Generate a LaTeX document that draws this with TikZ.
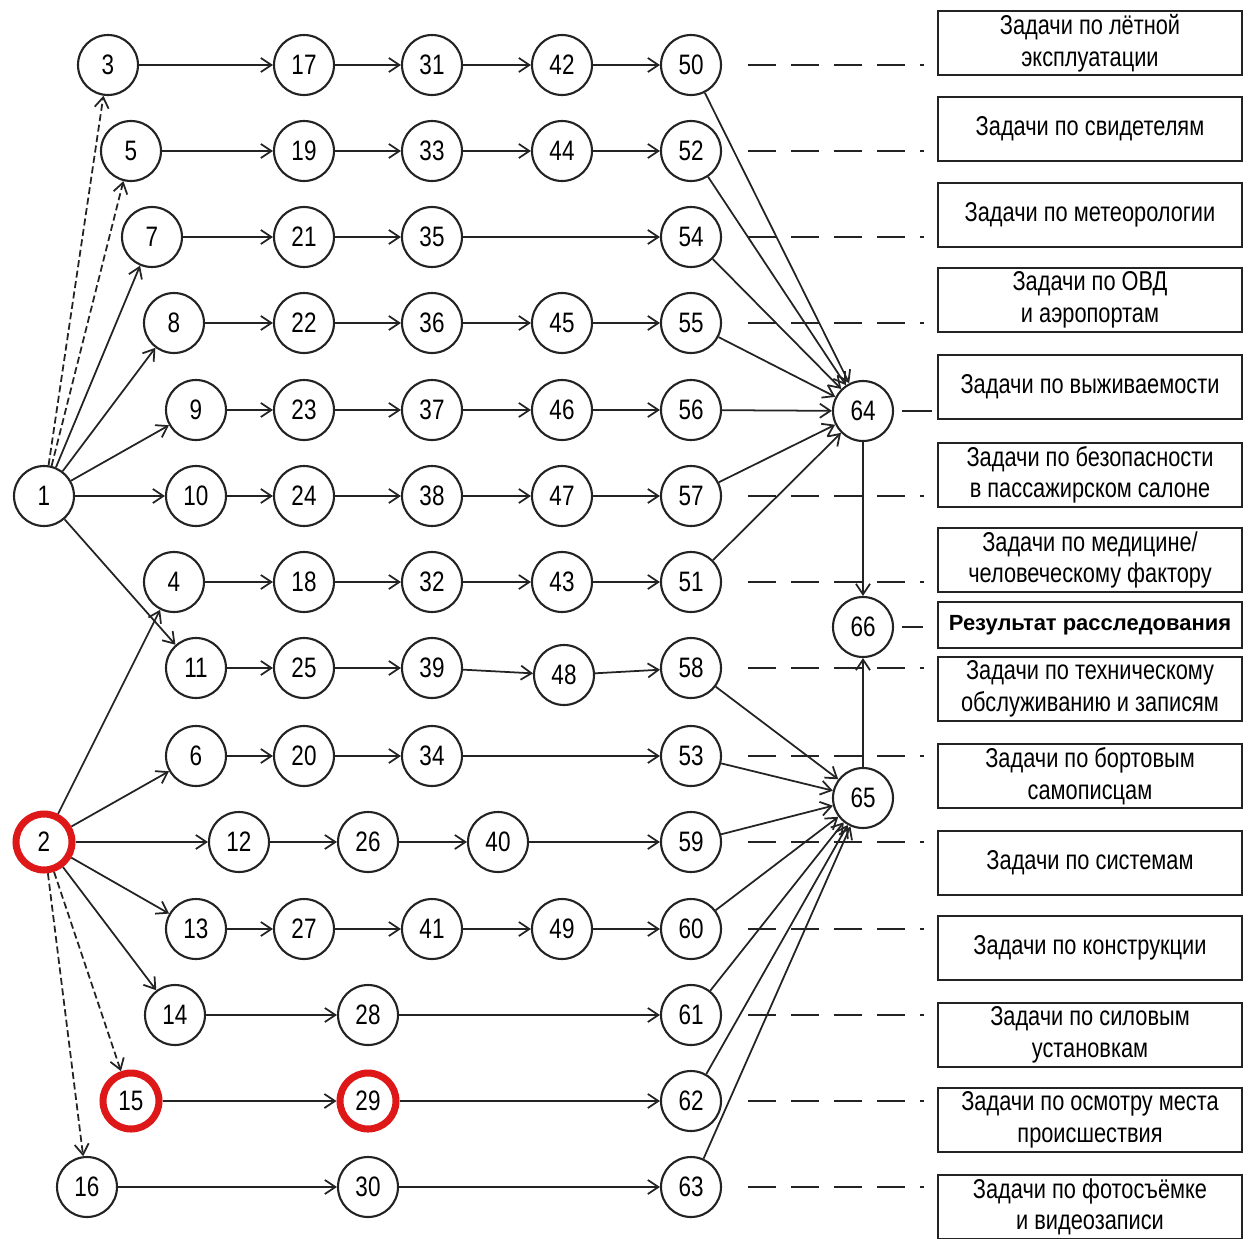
\documentclass[tikz,border=0pt]{standalone}
\usepackage{fontspec}
\setmainfont{Liberation Sans}
\newfontfamily\narrowfont[FakeStretch=0.8]{Liberation Sans}
\usetikzlibrary{arrows.meta}
\usepackage{xcolor}
\definecolor{cRed}{RGB}{222,24,24}
\definecolor{cInk}{RGB}{35,35,35}
\tikzset{
  event/.style={circle,draw=cInk,line width=1.2pt,minimum size=1.2cm,
                inner sep=0pt,fill=white,
                font=\narrowfont\fontsize{16}{18}\selectfont},
  keyevent/.style={event,draw=cRed,line width=4pt,minimum size=1.12cm},
  taskbox/.style={rectangle,draw=cInk,line width=1.2pt,minimum width=6.08cm,
                  minimum height=1.28cm,inner sep=1pt,align=center,
                  font=\narrowfont\fontsize{15.5}{18}\selectfont},
  resbox/.style={taskbox,minimum height=0.92cm,
                 font=\bfseries\fontsize{12.5}{14}\selectfont},
  arr/.style={-{Straight Barb[length=6pt,width=8pt]},line width=1pt,color=cInk},
  dasharr/.style={arr,dash pattern=on 4pt off 2pt},
  taskline/.style={line width=1.2pt,color=cInk,dash pattern=on 16pt off 8.5pt,
                   shorten <=0.52cm,shorten >=0.26cm},
  resline/.style={line width=1.2pt,color=cInk,shorten <=0.16cm,shorten >=0.1cm}
}

\begin{document}
\begin{tikzpicture}[x=0.02cm,y=-0.02cm]
  \useasboundingbox (0,0) rectangle (1248,1238);

  % start events
  \node[event] (n1) at (44,496) {1};
  \node[keyevent] (n2) at (44,842) {2};

  % first column
  \node[event] (n3) at (108,65) {3};
  \node[event] (n5) at (131,151) {5};
  \node[event] (n7) at (152,237) {7};
  \node[event] (n8) at (174,323) {8};
  \node[event] (n9) at (196,410) {9};
  \node[event] (n10) at (196,496) {10};
  \node[event] (n4) at (174,582) {4};
  \node[event] (n11) at (196,668) {11};
  \node[event] (n6) at (196,756) {6};
  \node[event] (n12) at (239,842) {12};
  \node[event] (n13) at (196,929) {13};
  \node[event] (n14) at (175,1015) {14};
  \node[keyevent] (n15) at (131,1101) {15};
  \node[event] (n16) at (87,1187) {16};

  % second column
  \node[event] (n17) at (304,65) {17};
  \node[event] (n19) at (304,151) {19};
  \node[event] (n21) at (304,237) {21};
  \node[event] (n22) at (304,323) {22};
  \node[event] (n23) at (304,410) {23};
  \node[event] (n24) at (304,496) {24};
  \node[event] (n18) at (304,582) {18};
  \node[event] (n25) at (304,668) {25};
  \node[event] (n20) at (304,756) {20};
  \node[event] (n26) at (368,842) {26};
  \node[event] (n27) at (304,929) {27};
  \node[event] (n28) at (368,1015) {28};
  \node[keyevent] (n29) at (368,1101) {29};
  \node[event] (n30) at (368,1187) {30};

  % third column
  \node[event] (n31) at (432,65) {31};
  \node[event] (n33) at (432,151) {33};
  \node[event] (n35) at (432,237) {35};
  \node[event] (n36) at (432,323) {36};
  \node[event] (n37) at (432,410) {37};
  \node[event] (n38) at (432,496) {38};
  \node[event] (n32) at (432,582) {32};
  \node[event] (n39) at (432,668) {39};
  \node[event] (n34) at (432,756) {34};
  \node[event] (n40) at (498,842) {40};
  \node[event] (n41) at (432,929) {41};

  % fourth column
  \node[event] (n42) at (562,65) {42};
  \node[event] (n44) at (562,151) {44};
  \node[event] (n45) at (562,323) {45};
  \node[event] (n46) at (562,410) {46};
  \node[event] (n47) at (562,496) {47};
  \node[event] (n43) at (562,582) {43};
  \node[event] (n48) at (564,675) {48};
  \node[event] (n49) at (562,929) {49};

  % fifth column
  \node[event] (n50) at (691,65) {50};
  \node[event] (n52) at (691,151) {52};
  \node[event] (n54) at (691,237) {54};
  \node[event] (n55) at (691,323) {55};
  \node[event] (n56) at (691,410) {56};
  \node[event] (n57) at (691,496) {57};
  \node[event] (n51) at (691,582) {51};
  \node[event] (n58) at (691,668) {58};
  \node[event] (n53) at (691,756) {53};
  \node[event] (n59) at (691,842) {59};
  \node[event] (n60) at (691,929) {60};
  \node[event] (n61) at (691,1015) {61};
  \node[event] (n62) at (691,1101) {62};
  \node[event] (n63) at (691,1187) {63};

  % merge events
  \node[event] (n64) at (863,411) {64};
  \node[event] (n66) at (863,627) {66};
  \node[event] (n65) at (863,798) {65};

  % task boxes
  \node[taskbox] (t1) at (1090,43) {Задачи по лётной\\эксплуатации};
  \node[taskbox] (t2) at (1090,129) {Задачи по свидетелям};
  \node[taskbox] (t3) at (1090,215) {Задачи по метеорологии};
  \node[taskbox] (t4) at (1090,300) {Задачи по ОВД\\и аэропортам};
  \node[taskbox] (t5) at (1090,387) {Задачи по выживаемости};
  \node[taskbox] (t6) at (1090,475) {Задачи по безопасности\\в пассажирском салоне};
  \node[taskbox] (t7) at (1090,560) {Задачи по медицине/\\человеческому фактору};
  \node[resbox] (res) at (1090,625) {Результат расследования};
  \node[taskbox] (t9) at (1090,689) {Задачи по техническому\\обслуживанию и записям};
  \node[taskbox] (t10) at (1090,776) {Задачи по бортовым\\самописцам};
  \node[taskbox] (t11) at (1090,863) {Задачи по системам};
  \node[taskbox] (t12) at (1090,948) {Задачи по конструкции};
  \node[taskbox] (t13) at (1090,1035) {Задачи по силовым\\установкам};
  \node[taskbox] (t14) at (1090,1120) {Задачи по осмотру места\\происшествия};
  \node[taskbox] (t15) at (1090,1207) {Задачи по фотосъёмке\\и видеозаписи};

  % from 1
  \draw[dasharr] (n1) -- (n3);
  \draw[dasharr] (n1) -- (n5);
  \draw[arr] (n1) -- (n7);
  \draw[arr] (n1) -- (n8);
  \draw[arr] (n1) -- (n9);
  \draw[arr] (n1) -- (n10);
  \draw[arr] (n1) -- (n11);

  % from 2
  \draw[arr] (n2) -- (n4);
  \draw[arr] (n2) -- (n6);
  \draw[arr] (n2) -- (n12);
  \draw[arr] (n2) -- (n13);
  \draw[arr] (n2) -- (n14);
  \draw[dasharr] (n2) -- (n15);
  \draw[dasharr] (n2) -- (n16);

  % rows
  \draw[arr] (n3) -- (n17); \draw[arr] (n17) -- (n31); \draw[arr] (n31) -- (n42); \draw[arr] (n42) -- (n50);
  \draw[arr] (n5) -- (n19); \draw[arr] (n19) -- (n33); \draw[arr] (n33) -- (n44); \draw[arr] (n44) -- (n52);
  \draw[arr] (n7) -- (n21); \draw[arr] (n21) -- (n35); \draw[arr] (n35) -- (n54);
  \draw[arr] (n8) -- (n22); \draw[arr] (n22) -- (n36); \draw[arr] (n36) -- (n45); \draw[arr] (n45) -- (n55);
  \draw[arr] (n9) -- (n23); \draw[arr] (n23) -- (n37); \draw[arr] (n37) -- (n46); \draw[arr] (n46) -- (n56);
  \draw[arr] (n10) -- (n24); \draw[arr] (n24) -- (n38); \draw[arr] (n38) -- (n47); \draw[arr] (n47) -- (n57);
  \draw[arr] (n4) -- (n18); \draw[arr] (n18) -- (n32); \draw[arr] (n32) -- (n43); \draw[arr] (n43) -- (n51);
  \draw[arr] (n11) -- (n25); \draw[arr] (n25) -- (n39); \draw[arr] (n39) -- (n48); \draw[arr] (n48) -- (n58);
  \draw[arr] (n6) -- (n20); \draw[arr] (n20) -- (n34); \draw[arr] (n34) -- (n53);
  \draw[arr] (n12) -- (n26); \draw[arr] (n26) -- (n40); \draw[arr] (n40) -- (n59);
  \draw[arr] (n13) -- (n27); \draw[arr] (n27) -- (n41); \draw[arr] (n41) -- (n49); \draw[arr] (n49) -- (n60);
  \draw[arr] (n14) -- (n28); \draw[arr] (n28) -- (n61);
  \draw[arr] (n15) -- (n29); \draw[arr] (n29) -- (n62);
  \draw[arr] (n16) -- (n30); \draw[arr] (n30) -- (n63);

  % into 64 and 65
  \draw[arr] (n50) -- (n64); \draw[arr] (n52) -- (n64); \draw[arr] (n54) -- (n64);
  \draw[arr] (n55) -- (n64); \draw[arr] (n56) -- (n64); \draw[arr] (n57) -- (n64);
  \draw[arr] (n51) -- (n64);
  \draw[arr] (n58) -- (n65); \draw[arr] (n53) -- (n65); \draw[arr] (n59) -- (n65);
  \draw[arr] (n60) -- (n65); \draw[arr] (n61) -- (n65); \draw[arr] (n62) -- (n65);
  \draw[arr] (n63) -- (n65);
  \draw[arr] (n64) -- (n66);
  \draw[arr] (n65) -- (n66);

  % links to task boxes
  \draw[taskline] (n50) -- (n50 -| t1.west);
  \draw[taskline] (n52) -- (n52 -| t2.west);
  \draw[taskline] (n54) -- (n54 -| t3.west);
  \draw[taskline] (n55) -- (n55 -| t4.west);
  \draw[resline] (n64) -- (n64 -| t5.west);
  \draw[taskline] (n57) -- (n57 -| t6.west);
  \draw[taskline] (n51) -- (n51 -| t7.west);
  \draw[resline,shorten >=0.28cm] (n66) -- (n66 -| res.west);
  \draw[taskline] (n58) -- (n58 -| t9.west);
  \draw[taskline] (n53) -- (n53 -| t10.west);
  \draw[taskline] (n59) -- (n59 -| t11.west);
  \draw[taskline] (n60) -- (n60 -| t12.west);
  \draw[taskline] (n61) -- (n61 -| t13.west);
  \draw[taskline] (n62) -- (n62 -| t14.west);
  \draw[taskline] (n63) -- (n63 -| t15.west);

\end{tikzpicture}
\end{document}
